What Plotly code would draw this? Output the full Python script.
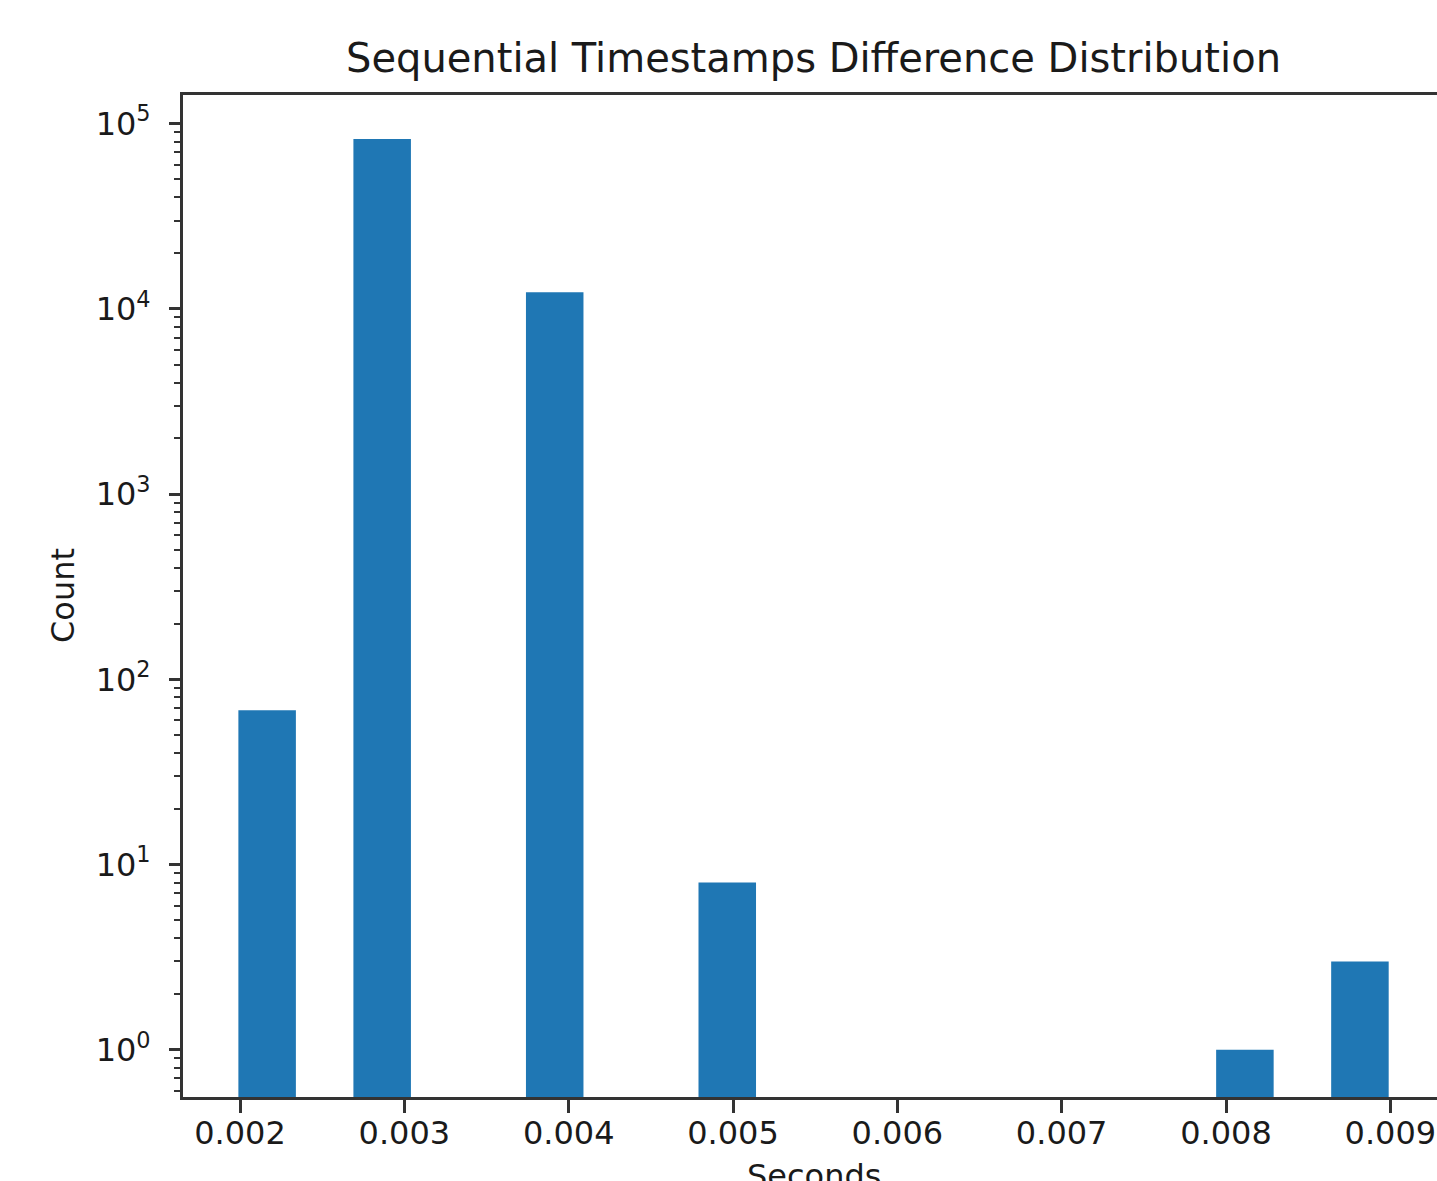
import plotly.graph_objects as go

# ---- data ----
bin_width = 0.00035
bin_left = [0.00199, 0.00269, 0.00374, 0.00479, 0.00794, 0.00864]
counts = [68, 82700, 12300, 8, 1, 3]

x_tick_vals = [0.002, 0.003, 0.004, 0.005, 0.006, 0.007, 0.008, 0.009]
x_tick_text = ["0.002", "0.003", "0.004", "0.005", "0.006", "0.007", "0.008", "0.009"]
y_tick_vals = [1, 10, 100, 1000, 10000, 100000]
y_tick_text = ["10<sup>0</sup>", "10<sup>1</sup>", "10<sup>2</sup>", "10<sup>3</sup>",
               "10<sup>4</sup>", "10<sup>5</sup>"]
y_minor_vals = [m * 10 ** e for e in range(-1, 6) for m in range(2, 10)]

title_text = "Sequential Timestamps Difference Distribution"
x_title = "Seconds"
y_title = "Count"

FONT = "DejaVu Sans"
AX = "#333333"
TXT = "#1a1a1a"

W, H = 1437, 1181
ML, MR, MT, MB = 183, 0, 95, 84
PW, PH = W - ML - MR, H - MT - MB

fig = go.Figure(
    go.Bar(
        x=bin_left,
        y=counts,
        width=bin_width,
        offset=0,
        marker=dict(color="#1f77b4", line=dict(width=0)),
    )
)

fig.update_layout(
    width=W,
    height=H,
    margin=dict(l=ML, r=MR, t=MT, b=MB, autoexpand=False),
    paper_bgcolor="white",
    plot_bgcolor="white",
    showlegend=False,
    font=dict(family=FONT, color=TXT, size=32),
    title=dict(
        text=title_text,
        x=(813.5 - ML) / PW,
        xref="paper",
        xanchor="center",
        y=1 - 58 / H,
        yref="container",
        yanchor="middle",
        font=dict(family=FONT, size=40, color=TXT),
    ),
    annotations=[
        dict(
            text=y_title, textangle=-90,
            x=(63 - ML) / PW, xref="paper", xanchor="center",
            y=0.5, yref="paper", yanchor="middle",
            showarrow=False, font=dict(family=FONT, size=32, color=TXT),
        ),
        dict(
            text=x_title,
            x=(813.5 - ML) / PW, xref="paper", xanchor="center",
            y=-(1155 - (MT + PH)) / PH, yref="paper", yanchor="top",
            showarrow=False, font=dict(family=FONT, size=32, color=TXT),
        ),
    ],
)

fig.update_xaxes(
    range=[0.001653, 0.009284],
    automargin=False,
    tickmode="array",
    tickvals=x_tick_vals,
    ticktext=x_tick_text,
    ticks="outside",
    ticklen=13,
    tickwidth=3,
    tickcolor=AX,
    ticklabelstandoff=-7,
    showline=True,
    linewidth=3,
    linecolor=AX,
    mirror=True,
    showgrid=False,
    zeroline=False,
    tickfont=dict(family=FONT, size=32, color=TXT),
)

fig.update_yaxes(
    type="log",
    range=[-0.255, 5.155],
    automargin=False,
    tickmode="array",
    tickvals=y_tick_vals,
    ticktext=y_tick_text,
    ticks="outside",
    ticklen=11,
    tickwidth=3,
    tickcolor=AX,
    ticklabelstandoff=12,
    showline=True,
    linewidth=3,
    linecolor=AX,
    mirror=False,
    showgrid=False,
    zeroline=False,
    tickfont=dict(family=FONT, size=32, color=TXT),
    minor=dict(
        tickmode="array",
        tickvals=y_minor_vals,
        ticks="outside",
        ticklen=6,
        tickwidth=2,
        tickcolor=AX,
        showgrid=False,
    ),
)

fig.write_html(
    "out.html",
    config={"displayModeBar": False},
    post_script="document.body.style.margin='0';document.body.style.overflow='hidden';",
)
